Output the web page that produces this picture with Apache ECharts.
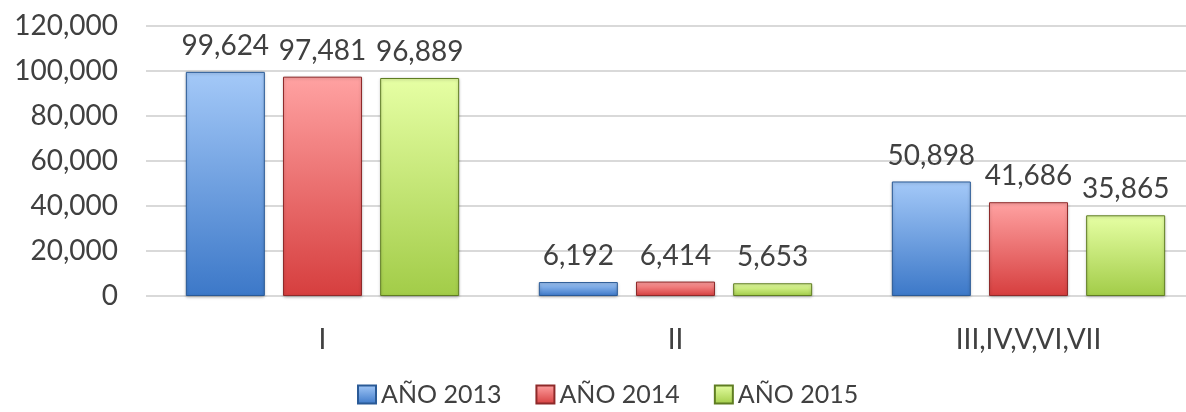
<!DOCTYPE html>
<html>
<head>
<meta charset="utf-8">
<script src="https://cdn.jsdelivr.net/npm/echarts@6/dist/echarts.min.js"></script>
<style>
  html, body { margin: 0; padding: 0; background: #fff; }
  #chart { width: 1186px; height: 412px; }
</style>
</head>
<body>
<div id="chart"></div>
<script>
var categories = ['I', 'II', 'III,IV,V,VI,VII'];
var anio2013 = [99624, 6192, 50898];
var anio2014 = [97481, 6414, 41686];
var anio2015 = [96889, 5653, 35865];
var seriesNames = ['AÑO 2013', 'AÑO 2014', 'AÑO 2015'];

var chart = echarts.init(document.getElementById('chart'));

function grad(top, bottom) {
  return new echarts.graphic.LinearGradient(0, 0, 0, 1, [
    { offset: 0, color: top },
    { offset: 1, color: bottom }
  ]);
}

// colores con degradado tipo bisel
var estilos = [
  { color: grad('#a4c9f8', '#3c78c8'), borderColor: '#2a5a96' },
  { color: grad('#ffa2a2', '#d63e3e'), borderColor: '#8e2a2a' },
  { color: grad('#e6ffa4', '#a2cc48'), borderColor: '#5f7d22' }
];

function serie(name, data, idx) {
  return {
    name: name,
    type: 'bar',
    data: data,
    barWidth: 79,
    barGap: '23%',
    itemStyle: {
      color: estilos[idx].color,
      borderColor: estilos[idx].borderColor,
      borderWidth: 1,
      shadowColor: 'rgba(0,0,0,0.25)',
      shadowBlur: 3,
      shadowOffsetY: 1
    },
    label: {
      show: true,
      position: 'top',
      distance: 12,
      fontFamily: 'Lato',
      fontSize: 28,
      color: '#404040',
      formatter: function (p) { return p.value.toLocaleString('en-US'); }
    }
  };
}

var options = {
  animation: false,
  textStyle: { fontFamily: 'Lato' },
  grid: { left: 146, width: 1059, top: 26, height: 270, outerBoundsMode: 'none', containLabel: false },
  legend: {
    bottom: 0,
    left: 352,
    itemWidth: 18,
    itemHeight: 18,
    itemGap: 34,
    icon: 'rect',
    textStyle: { fontFamily: 'Lato', fontSize: 25, color: '#404040' },
    data: seriesNames
  },
  xAxis: {
    type: 'category',
    data: categories,
    axisLine: { show: false },
    axisTick: { show: false },
    axisLabel: { margin: 30, fontFamily: 'Lato', fontSize: 28, color: '#404040' }
  },
  yAxis: {
    type: 'value',
    min: 0,
    max: 120000,
    interval: 20000,
    axisLine: { show: false },
    axisTick: { show: false },
    splitLine: { lineStyle: { color: '#d9d9d9', width: 2 } },
    axisLabel: {
      margin: 28,
      fontFamily: 'Lato',
      fontSize: 28,
      color: '#404040',
      formatter: function (v) { return v.toLocaleString('en-US'); }
    }
  },
  series: [
    serie(seriesNames[0], anio2013, 0),
    serie(seriesNames[1], anio2014, 1),
    serie(seriesNames[2], anio2015, 2)
  ]
};

chart.setOption(options, true);
</script>
</body>
</html>
